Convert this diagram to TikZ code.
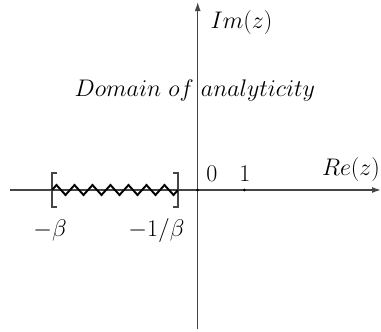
\RequirePackage{fix-cm}
\documentclass[tikz,border=0pt]{standalone}
\usetikzlibrary{arrows.meta}
\definecolor{axisgray}{RGB}{70,70,70}
\begin{document}
\begin{tikzpicture}[x=1pt,y=-1pt,
  axisline/.style={draw=axisgray,line width=1.3pt,-{Latex[length=9pt,width=6pt]}},
  bracketline/.style={draw=axisgray,line width=1.2pt},
  cutline/.style={draw=black,line width=1.9pt,line join=miter},
  lbl/.style={inner sep=0pt,font=\fontsize{24pt}{29pt}\selectfont},
  pt/.style={circle,fill=black,inner sep=0pt,minimum size=3pt}]
\useasboundingbox (0,0) rectangle (381,332);
% axes
\coordinate (xstart) at (10,190);
\coordinate (xend) at (381,190);
\coordinate (ystart) at (197.7,329);
\coordinate (yend) at (197.7,2);
\draw[axisline] (xstart) -- (xend);
\draw[axisline] (ystart) -- (yend);
% points
\node[pt] (origin) at (197.7,190) {};
\node[pt] (one) at (244.3,190) {};
% brackets
\coordinate (lb) at (52,190);
\coordinate (rb) at (178,190);
\draw[bracketline] ([xshift=5pt,yshift=-17pt]lb) -- ([yshift=-17pt]lb) -- ([yshift=17pt]lb) -- ([xshift=5pt,yshift=17pt]lb);
\draw[bracketline] ([xshift=-5pt,yshift=-17pt]rb) -- ([yshift=-17pt]rb) -- ([yshift=17pt]rb) -- ([xshift=-5pt,yshift=17pt]rb);
% branch cut zigzag
\draw[cutline] (lb)
  \foreach \i in {0,...,6} { -- ++(4.5,-5) -- ++(9,10) -- ++(4.5,-5) } ;
% labels
\node[lbl] (im) at (241.5,23) {$Im(z)$};
\node[lbl] (re) at (351,170) {$Re(z)$};
\node[lbl] (zero) at (212,173.5) {$0$};
\node[lbl] (onelbl) at (245,173.5) {$1$};
\node[lbl] (mb) at (50,230.5) {$-\beta$};
\node[lbl] (mib) at (156.5,230.5) {$-1/\beta$};
\node[lbl,anchor=west] (dom) at (74.5,90) {$Domain\ of\ analyticity$};
\end{tikzpicture}
\end{document}
